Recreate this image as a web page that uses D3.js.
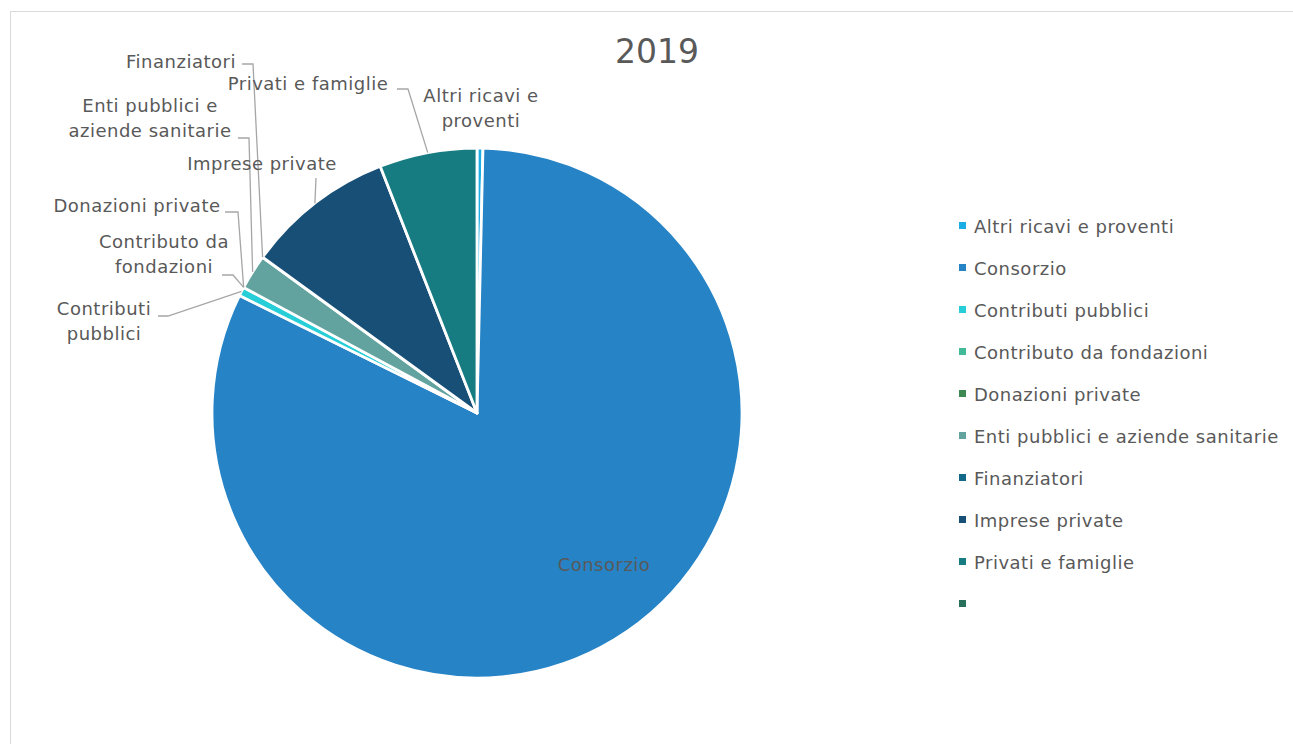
<!DOCTYPE html>
<html>
<head>
<meta charset="utf-8">
<script src="https://cdn.jsdelivr.net/npm/d3@7"></script>
<style>
  html, body { margin: 0; padding: 0; background: #fff; }
  svg { display: block; }
  text { font-family: "DejaVu Sans", sans-serif; fill: #595959; }
</style>
</head>
<body>
<svg id="chart" width="1293" height="744"></svg>
<script>
// ---- data ----
const categories = [
  "Altri ricavi e proventi",
  "Consorzio",
  "Contributi pubblici",
  "Contributo da fondazioni",
  "Donazioni private",
  "Enti pubblici e aziende sanitarie",
  "Finanziatori",
  "Imprese private",
  "Privati e famiglie",
  ""
];
const values = [0.36, 81.94, 0.55, 0, 0, 2.14, 0, 9.05, 5.95, 0];
const colors = ["#1CADE4", "#2683C6", "#27CED7", "#42BA97", "#3E8853",
                "#62A39F", "#116889", "#174F77", "#177C81", "#28705B"];
const title = "2019";

// label text lines (per category)
const labelLines = [
  ["Altri ricavi e", "proventi"],
  ["Consorzio"],
  ["Contributi", "pubblici"],
  ["Contributo da", "fondazioni"],
  ["Donazioni private"],
  ["Enti pubblici e", "aziende sanitarie"],
  ["Finanziatori"],
  ["Imprese private"],
  ["Privati e famiglie"],
  []
];

// ---- layout ----
const W = 1293, H = 744;
const cx = 477, cy = 413, R = 265;
const fontSize = 18;
const letterSp = 0.5;
const lineH = 25;

// label placement: text anchor point (x, first baseline), anchor, leader start & elbow
const labelLayout = [
  {x: 481, y: 102, anchor: "middle", leader: null},
  {x: 604, y: 571, anchor: "middle", leader: null},
  {x: 104, y: 315, anchor: "middle", leader: [[158, 316], [168, 316]]},
  {x: 164, y: 248, anchor: "middle", leader: [[222, 275], [233, 275]]},
  {x: 137, y: 212, anchor: "middle", leader: [[225, 212], [238, 212]]},
  {x: 150, y: 112, anchor: "middle", leader: [[238, 138], [249, 138]]},
  {x: 181, y: 68, anchor: "middle", leader: [[242, 64], [253, 64]]},
  {x: 262, y: 170, anchor: "middle", leader: [[316, 178], [316, 178]]},
  {x: 308, y: 90, anchor: "middle", leader: [[397, 89], [408, 89]]},
  null
];

const svg = d3.select("#chart");

// chart area border
svg.append("rect")
  .attr("x", 10.5).attr("y", 11.5)
  .attr("width", W + 20).attr("height", H + 20)
  .attr("fill", "#fff").attr("stroke", "#D9D9D9").attr("stroke-width", 1);

// title
svg.append("text")
  .attr("x", 657).attr("y", 63)
  .attr("text-anchor", "middle")
  .attr("font-size", 33)
  .text(title);

const data = categories.map((c, i) => ({cat: c, value: values[i], color: colors[i], i}));

const pie = d3.pie().sort(null).value(d => d.value).startAngle(0).endAngle(2 * Math.PI);
const arcs = pie(data);
const arc = d3.arc().innerRadius(0).outerRadius(R);

const g = svg.append("g").attr("transform", `translate(${cx},${cy})`);
g.selectAll("path.slice")
  .data(arcs.filter(a => a.data.value > 0))
  .join("path")
  .attr("class", "slice")
  .attr("d", arc)
  .attr("fill", d => d.data.color)
  .attr("stroke", "#fff")
  .attr("stroke-width", 2.8)
  .attr("stroke-linejoin", "round");

// leader lines
const line = d3.line();
arcs.forEach((a, i) => {
  const L = labelLayout[i];
  if (!L || !L.leader) return;
  const mid = (a.startAngle + a.endAngle) / 2;
  const end = [cx + Math.sin(mid) * R, cy - Math.cos(mid) * R];
  svg.append("path")
    .attr("d", line([L.leader[0], L.leader[1], end]))
    .attr("fill", "none")
    .attr("stroke", "#A6A6A6")
    .attr("stroke-width", 1.3);
});

// data labels
arcs.forEach((a, i) => {
  const L = labelLayout[i];
  if (!L) return;
  const t = svg.append("text")
    .attr("text-anchor", L.anchor)
    .attr("font-size", fontSize)
    .attr("letter-spacing", letterSp);
  labelLines[i].forEach((ln, k) => {
    t.append("tspan").attr("x", L.x).attr("y", L.y + k * lineH).text(ln);
  });
});

// legend
const legend = svg.append("g").attr("transform", "translate(959,226)");
const rows = legend.selectAll("g.row")
  .data(data)
  .join("g")
  .attr("class", "row")
  .attr("transform", (d, i) => `translate(0,${i * 42})`);
rows.append("rect")
  .attr("x", 0).attr("y", -4).attr("width", 7).attr("height", 7)
  .attr("fill", d => d.color);
rows.append("text")
  .attr("x", 15).attr("y", 6.5)
  .attr("font-size", fontSize)
  .attr("letter-spacing", letterSp)
  .text(d => d.cat);
</script>
</body>
</html>
